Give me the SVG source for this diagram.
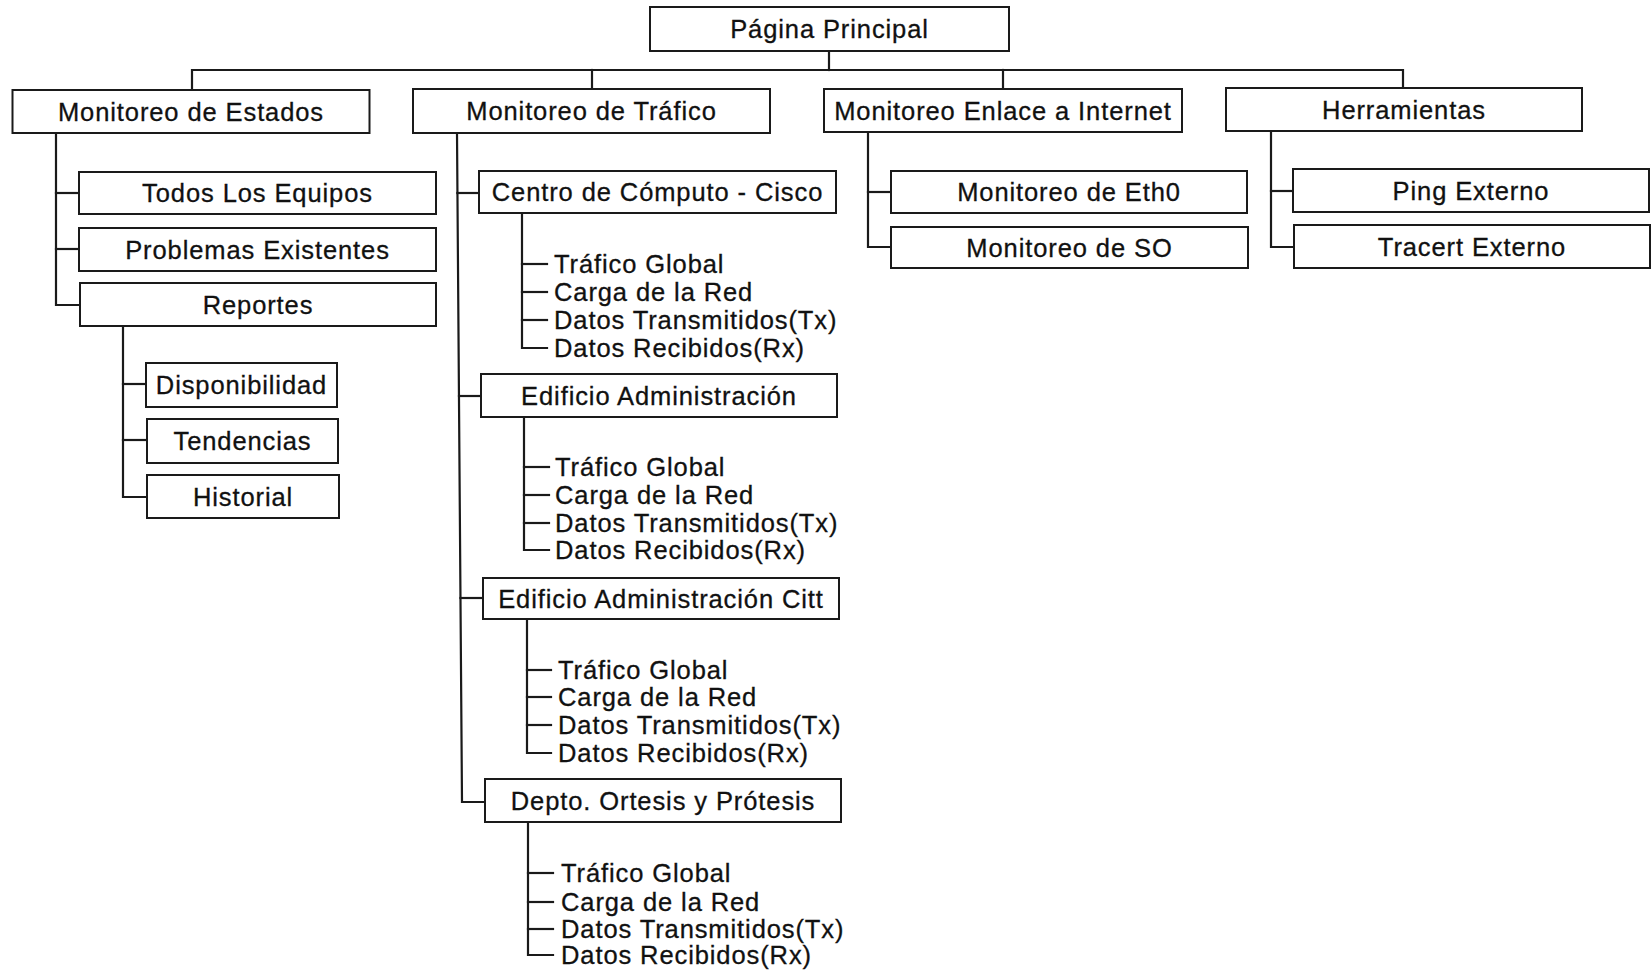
<svg xmlns="http://www.w3.org/2000/svg" width="1652" height="970" viewBox="0 0 1652 970">
  <style>
    .box { fill: #ffffff; stroke: #1a1a1a; stroke-width: 2; }
    .lbl { font-family: "Liberation Sans", Arial, Helvetica, sans-serif; font-size: 25.5px; letter-spacing: 0.9px; fill: #111111; stroke: #111111; stroke-width: 0.3; }
    .c { text-anchor: middle; }
    .wire { fill: none; stroke: #1a1a1a; stroke-width: 2.2; stroke-linejoin: miter; stroke-linecap: square; }
  </style>
  <rect x="0" y="0" width="1652" height="970" fill="#ffffff"/>

  <!-- connectors -->
  <g id="connectors" class="wire">
    <!-- root to first level -->
    <path d="M829 51 V70"/>
    <path d="M192 90 V70 H1403 V88"/>
    <path d="M592 70 V89"/>
    <path d="M1003 70 V89"/>
    <!-- Monitoreo de Estados -->
    <path d="M56 133 V305 H79"/>
    <path d="M56 193 H79"/>
    <path d="M56 249 H79"/>
    <!-- Reportes -->
    <path d="M123 326 V497 H147"/>
    <path d="M123 384 H146"/>
    <path d="M123 440 H147"/>
    <!-- Monitoreo de Tráfico -->
    <path d="M457 133 L462 802 H485"/>
    <path d="M457.4 193 H479"/>
    <path d="M459 396 H481"/>
    <path d="M460.5 598 H483"/>
    <!-- Centro de Cómputo items -->
    <path d="M522 213 V348 H547"/>
    <path d="M522 264 H547"/>
    <path d="M522 292 H547"/>
    <path d="M522 320 H547"/>
    <!-- Edificio Administración items -->
    <path d="M524 417 V550 H549"/>
    <path d="M524 467 H549"/>
    <path d="M524 495 H549"/>
    <path d="M524 523 H549"/>
    <!-- Edificio Administración Citt items -->
    <path d="M527 619 V753 H551"/>
    <path d="M527 670 H551"/>
    <path d="M527 697 H551"/>
    <path d="M527 725 H551"/>
    <!-- Depto. Ortesis y Prótesis items -->
    <path d="M528 822 V955 H553"/>
    <path d="M528 873 H553"/>
    <path d="M528 902 H553"/>
    <path d="M528 929 H553"/>
    <!-- Monitoreo Enlace a Internet -->
    <path d="M868 132 V247 H891"/>
    <path d="M868 192 H891"/>
    <!-- Herramientas -->
    <path d="M1271 131 V247 H1294"/>
    <path d="M1271 191 H1293"/>
  </g>

  <!-- nodes -->
  <g id="pagina-principal"><rect class="box" x="650" y="7" width="359" height="44"/><text class="lbl c" x="829.5" y="38.1">Página Principal</text></g>

  <g id="monitoreo-estados"><rect class="box" x="12.5" y="90" width="357" height="43"/><text class="lbl c" x="191" y="120.6">Monitoreo de Estados</text></g>
  <g id="monitoreo-trafico"><rect class="box" x="413" y="89" width="357" height="44"/><text class="lbl c" x="591.5" y="120.1">Monitoreo de Tráfico</text></g>
  <g id="monitoreo-enlace"><rect class="box" x="824" y="89" width="358" height="43"/><text class="lbl c" x="1003" y="119.6">Monitoreo Enlace a Internet</text></g>
  <g id="herramientas"><rect class="box" x="1226" y="88" width="356" height="43"/><text class="lbl c" x="1404" y="118.6">Herramientas</text></g>

  <g id="todos-equipos"><rect class="box" x="79" y="172" width="357" height="42"/><text class="lbl c" x="257.5" y="202.1">Todos Los Equipos</text></g>
  <g id="problemas"><rect class="box" x="79" y="228" width="357" height="43"/><text class="lbl c" x="257.5" y="258.6">Problemas Existentes</text></g>
  <g id="reportes"><rect class="box" x="80" y="283" width="356" height="43"/><text class="lbl c" x="258" y="313.6">Reportes</text></g>

  <g id="disponibilidad"><rect class="box" x="146" y="363" width="191" height="44"/><text class="lbl c" x="241.5" y="394.1">Disponibilidad</text></g>
  <g id="tendencias"><rect class="box" x="147" y="419" width="191" height="44"/><text class="lbl c" x="242.5" y="450.1">Tendencias</text></g>
  <g id="historial"><rect class="box" x="147" y="475" width="192" height="43"/><text class="lbl c" x="243" y="505.6">Historial</text></g>

  <g id="centro-computo"><rect class="box" x="479" y="171" width="357" height="42"/><text class="lbl c" x="657.5" y="201.1">Centro de Cómputo - Cisco</text></g>
  <g id="centro-items">
    <text class="lbl" x="554" y="273.1">Tráfico Global</text>
    <text class="lbl" x="554" y="301.1">Carga de la Red</text>
    <text class="lbl" x="554" y="329.1">Datos Transmitidos(Tx)</text>
    <text class="lbl" x="554" y="357.1">Datos Recibidos(Rx)</text>
  </g>

  <g id="edificio-admin"><rect class="box" x="481" y="374" width="356" height="43"/><text class="lbl c" x="659" y="404.6">Edificio Administración</text></g>
  <g id="edificio-admin-items">
    <text class="lbl" x="555" y="476.1">Tráfico Global</text>
    <text class="lbl" x="555" y="504.1">Carga de la Red</text>
    <text class="lbl" x="555" y="532.1">Datos Transmitidos(Tx)</text>
    <text class="lbl" x="555" y="559.1">Datos Recibidos(Rx)</text>
  </g>

  <g id="edificio-citt"><rect class="box" x="483" y="578" width="356" height="41"/><text class="lbl c" x="661" y="607.6">Edificio Administración Citt</text></g>
  <g id="edificio-citt-items">
    <text class="lbl" x="558" y="679.1">Tráfico Global</text>
    <text class="lbl" x="558" y="706.1">Carga de la Red</text>
    <text class="lbl" x="558" y="734.1">Datos Transmitidos(Tx)</text>
    <text class="lbl" x="558" y="762.1">Datos Recibidos(Rx)</text>
  </g>

  <g id="depto-ortesis"><rect class="box" x="485" y="779" width="356" height="43"/><text class="lbl c" x="663" y="809.6">Depto. Ortesis y Prótesis</text></g>
  <g id="depto-ortesis-items">
    <text class="lbl" x="561" y="882.1">Tráfico Global</text>
    <text class="lbl" x="561" y="911.1">Carga de la Red</text>
    <text class="lbl" x="561" y="938.1">Datos Transmitidos(Tx)</text>
    <text class="lbl" x="561" y="964.1">Datos Recibidos(Rx)</text>
  </g>

  <g id="monitoreo-eth0"><rect class="box" x="891" y="171" width="356" height="42"/><text class="lbl c" x="1069" y="201.1">Monitoreo de Eth0</text></g>
  <g id="monitoreo-so"><rect class="box" x="891" y="227" width="357" height="41"/><text class="lbl c" x="1069.5" y="256.6">Monitoreo de SO</text></g>

  <g id="ping-externo"><rect class="box" x="1293" y="169" width="356" height="43"/><text class="lbl c" x="1471" y="199.6">Ping Externo</text></g>
  <g id="tracert-externo"><rect class="box" x="1294" y="225" width="356" height="43"/><text class="lbl c" x="1472" y="255.6">Tracert Externo</text></g>
</svg>
